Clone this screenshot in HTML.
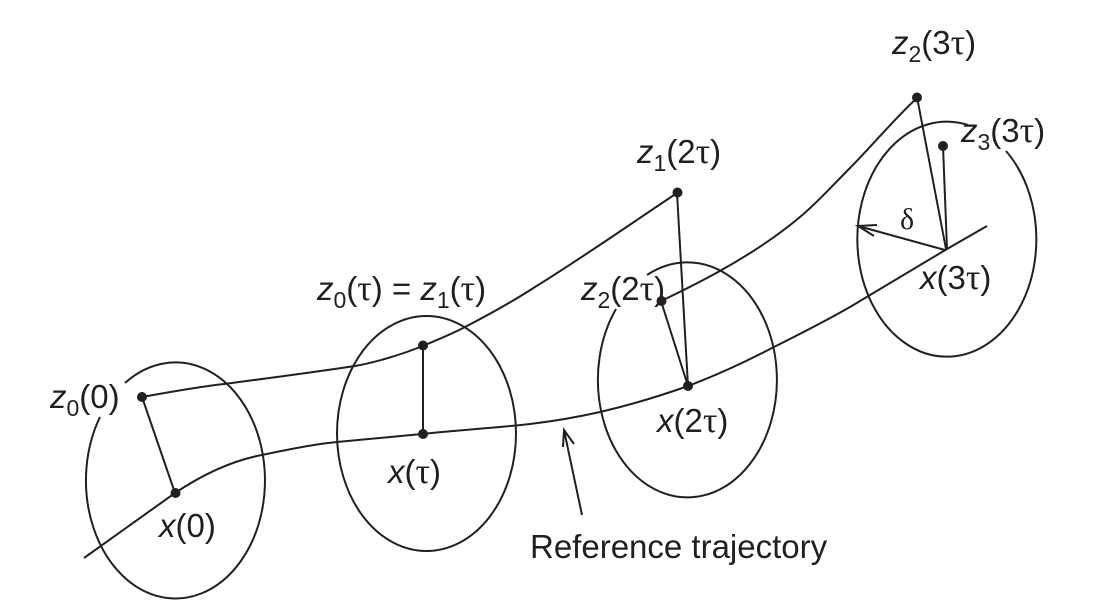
<!DOCTYPE html>
<html><head><meta charset="utf-8"><style>
html,body{margin:0;padding:0;background:#fff;width:1095px;height:616px;overflow:hidden}
svg{display:block}
text{font-family:"Liberation Sans",sans-serif;font-size:33px;fill:#231f20}
.s{font-size:23px}
.g{font-family:"Liberation Serif",serif}
.t{font-family:"Liberation Serif",serif;font-size:36px}
path,line,ellipse{fill:none;stroke:#231f20;stroke-width:2}
circle{fill:#231f20}
</style></head><body>
<svg width="1095" height="616" viewBox="0 0 1095 616">
<!-- ellipses -->
<path d="M125 383 A89.5 118 0 1 1 100 417"/>
<ellipse cx="426.5" cy="433.5" rx="89.5" ry="117.5"/>
<path d="M647 275 A89.5 117.5 0 1 1 616 309"/>
<path d="M1006 151 A89.5 117.5 0 1 1 968 125"/>
<!-- reference trajectory -->
<path d="M84 558 L175 493 C205 473 235 460 262 455 C290 449 315 444 337 442 L422 434 C460 430 495 428 530 424 C555 421 578 417 600 412 C630 405 660 396 688 386 C717 375 745 362 772 348 C798 335 824 322 850 307 C882 288 915 268 947 249 L987 226"/>
<!-- upper curves -->
<path d="M142 397 C170 392 197 387 224 384 C270 378 315 372 355 366 C372 363 398 356 422.5 346 C437 340 452 334 465 327 C490 314 512 302 535 287 C585 256 632 223 677 193"/>
<path d="M661 301 C680 292 700 282 718 272 C747 256 775 238 800 217 C817 203 834 184 850 168 C872 146 895 118 917 98"/>
<!-- spokes -->
<line x1="142" y1="397" x2="175" y2="493"/>
<line x1="423" y1="345" x2="423" y2="434"/>
<line x1="677" y1="193" x2="688" y2="386"/>
<line x1="661" y1="301" x2="688" y2="386"/>
<line x1="917" y1="97" x2="946" y2="249"/>
<line x1="943" y1="146" x2="947" y2="249"/>
<line x1="945" y1="250" x2="858" y2="226"/>
<path d="M877 225 L858 226 L874 236"/>
<!-- pointer arrow -->
<line x1="582" y1="515" x2="564" y2="430"/>
<path d="M563 447 L564 430 L574 444"/>
<!-- dots -->
<circle cx="142" cy="397" r="5"/><circle cx="175.500" cy="493" r="5"/>
<circle cx="423" cy="345.500" r="5"/><circle cx="423" cy="434" r="5"/>
<circle cx="677.500" cy="192.500" r="5"/><circle cx="661.500" cy="301" r="5"/><circle cx="688" cy="386" r="5"/>
<circle cx="917" cy="97.500" r="5"/><circle cx="943" cy="146" r="5"/>
<!-- labels -->
<text x="50" y="408"><tspan font-style="italic">z</tspan><tspan class="s" dy="8">0</tspan><tspan dy="-8">(0)</tspan></text>
<text x="159" y="537"><tspan font-style="italic">x</tspan>(0)</text>
<text x="317" y="300"><tspan font-style="italic">z</tspan><tspan class="s" dy="8">0</tspan><tspan dy="-8">(</tspan><tspan class="t">τ</tspan>) = <tspan font-style="italic">z</tspan><tspan class="s" dy="8">1</tspan><tspan dy="-8">(</tspan><tspan class="t">τ</tspan>)</text>
<text x="388" y="483"><tspan font-style="italic">x</tspan>(<tspan class="t">τ</tspan>)</text>
<text x="637" y="163"><tspan font-style="italic">z</tspan><tspan class="s" dy="8">1</tspan><tspan dy="-8">(2</tspan><tspan class="t">τ</tspan>)</text>
<text x="581" y="300"><tspan font-style="italic">z</tspan><tspan class="s" dy="8">2</tspan><tspan dy="-8">(2</tspan><tspan class="t">τ</tspan>)</text>
<text x="657" y="432"><tspan font-style="italic">x</tspan>(2<tspan class="t">τ</tspan>)</text>
<text x="892" y="54"><tspan font-style="italic">z</tspan><tspan class="s" dy="8">2</tspan><tspan dy="-8">(3</tspan><tspan class="t">τ</tspan>)</text>
<text x="961" y="142"><tspan font-style="italic">z</tspan><tspan class="s" dy="8">3</tspan><tspan dy="-8">(3</tspan><tspan class="t">τ</tspan>)</text>
<text x="900" y="229" class="g" style="font-size:30px">δ</text>
<text x="920" y="289"><tspan font-style="italic">x</tspan>(3<tspan class="t">τ</tspan>)</text>
<text x="530" y="558">Reference trajectory</text>
</svg>
</body></html>
